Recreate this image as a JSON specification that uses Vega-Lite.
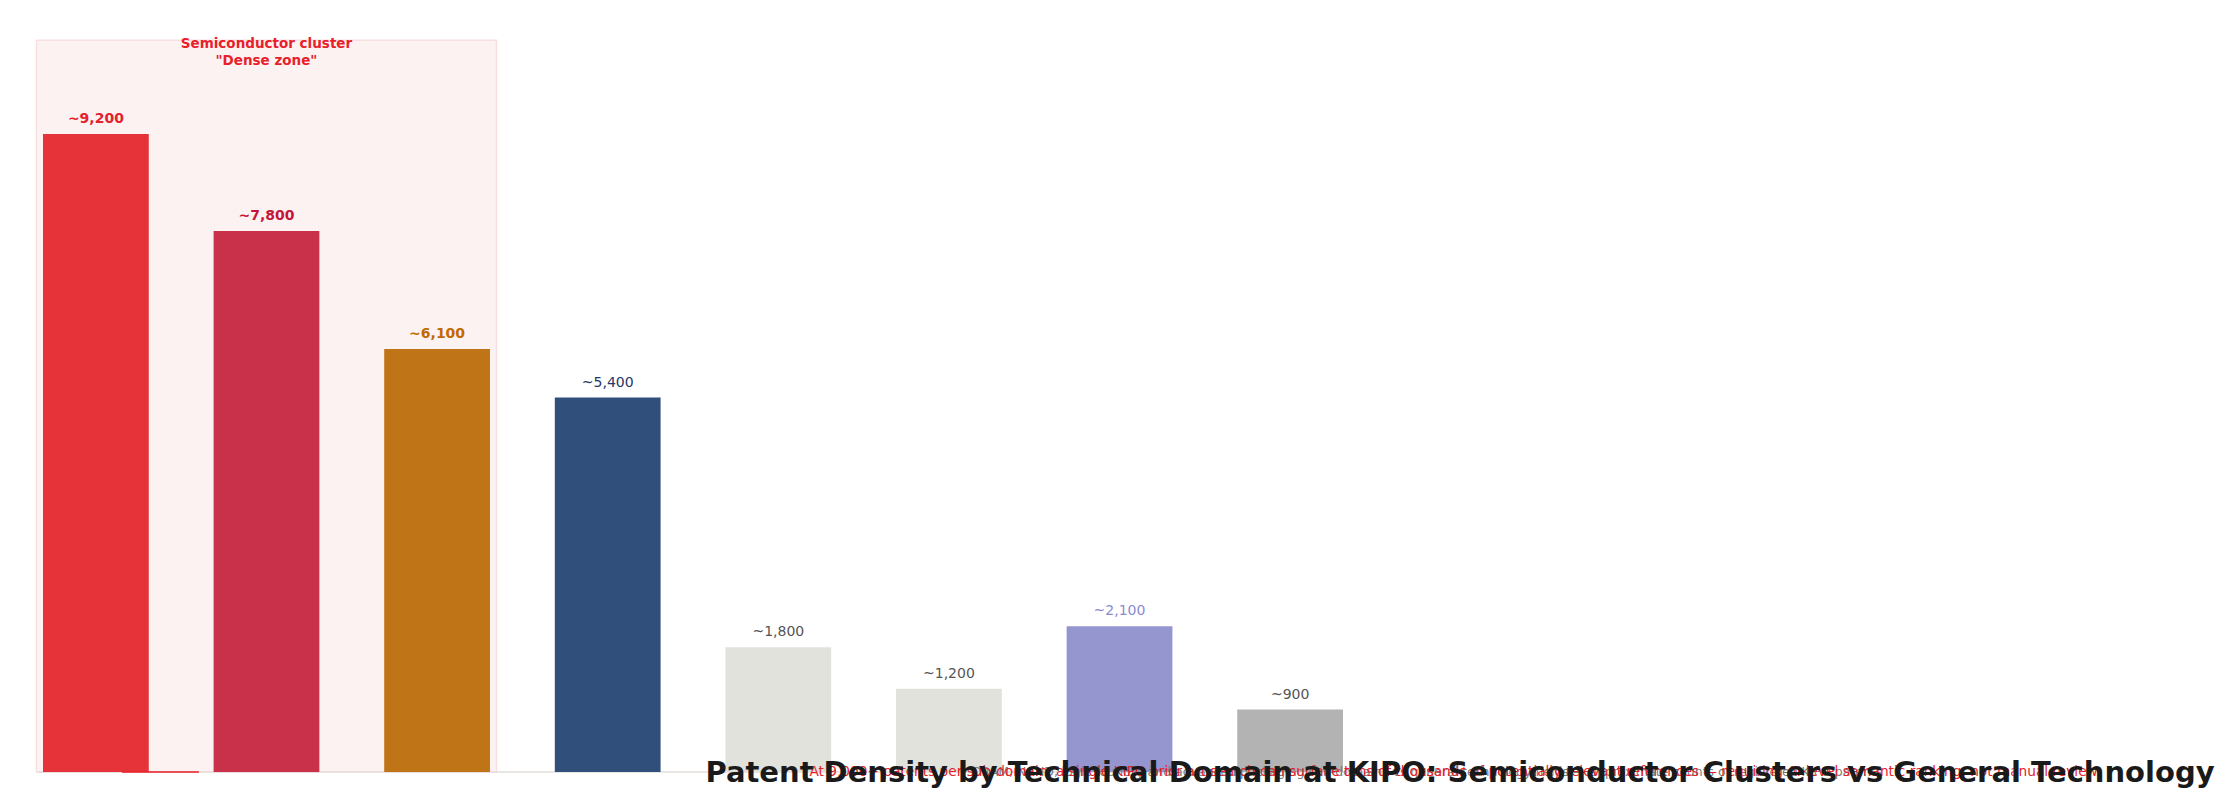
{
  "$schema": "https://vega.github.io/schema/vega-lite/v6.json",
  "autosize": {"type": "none"},
  "padding": {"left": 0, "top": 78.5, "right": 839, "bottom": 24.5},
  "width": 1386,
  "height": 693.5,
  "background": "white",
  "config": {
    "view": {"stroke": null},
    "font": "DejaVu Sans"
  },
  "title": {
    "text": "Patent Density by Technical Domain at KIPO: Semiconductor Clusters vs General Technology",
    "orient": "bottom",
    "anchor": "middle",
    "frame": "group",
    "dx": 767,
    "offset": 3,
    "baseline": "alphabetic",
    "font": "DejaVu Sans",
    "fontSize": 29,
    "fontWeight": "bold",
    "color": "#1a1a1a"
  },
  "data": {
    "values": [
      {"domain": "Memory (DRAM / NAND)", "group": "semi", "value": 9200, "label": "~9,200"},
      {"domain": "Logic & Foundry", "group": "semi", "value": 7800, "label": "~7,800"},
      {"domain": "Advanced Packaging", "group": "semi", "value": 6100, "label": "~6,100"},
      {"domain": "Display", "group": "general", "value": 5400, "label": "~5,400"},
      {"domain": "Mechanical Engineering", "group": "general", "value": 1800, "label": "~1,800"},
      {"domain": "Consumer Goods", "group": "general", "value": 1200, "label": "~1,200"},
      {"domain": "Biotech / Pharma", "group": "general", "value": 2100, "label": "~2,100"},
      {"domain": "Civil Engineering", "group": "general", "value": 900, "label": "~900"}
    ]
  },
  "encoding": {
    "x": {
      "field": "domain",
      "type": "nominal",
      "scale": {
        "domain": ["Memory (DRAM / NAND)", "Logic & Foundry", "Advanced Packaging", "Display", "Mechanical Engineering", "Consumer Goods", "Biotech / Pharma", "Civil Engineering"],
        "paddingInner": 0.38,
        "paddingOuter": 0.252
      },
      "axis": null
    }
  },
  "layer": [
    {
      "transform": [{"filter": "datum.domain === 'Logic & Foundry'"}],
      "mark": {"type": "rect", "width": 460, "fill": "#fdf2f2", "stroke": "#f9e0e0", "strokeWidth": 1.5},
      "encoding": {
        "y": {"datum": 10550, "type": "quantitative", "scale": {"domain": [0, 10000]}, "axis": null},
        "y2": {"datum": 0}
      }
    },
    {
      "transform": [{"filter": "datum.domain === 'Memory (DRAM / NAND)'"}],
      "mark": {"type": "rule", "color": "#e3deda", "strokeWidth": 1.5},
      "encoding": {
        "x": {"value": 37},
        "x2": {"value": 1386},
        "y": {"datum": 0, "type": "quantitative", "scale": {"domain": [0, 10000]}, "axis": null}
      }
    },
    {
      "mark": {"type": "bar"},
      "encoding": {
        "y": {"field": "value", "type": "quantitative", "scale": {"domain": [0, 10000]}, "axis": null},
        "color": {
          "field": "domain",
          "type": "nominal",
          "scale": {
            "domain": ["Memory (DRAM / NAND)", "Logic & Foundry", "Advanced Packaging", "Display", "Mechanical Engineering", "Consumer Goods", "Biotech / Pharma", "Civil Engineering"],
            "range": ["#e63339", "#c9314b", "#bf7418", "#304f7a", "#e2e2dc", "#e2e2dc", "#9595cf", "#b3b3b3"]
          },
          "legend": null
        }
      }
    },
    {
      "transform": [{"filter": "datum.group === 'semi'"}],
      "mark": {"type": "text", "baseline": "bottom", "dy": -8, "fontSize": 14, "fontWeight": "bold"},
      "encoding": {
        "y": {"field": "value", "type": "quantitative", "scale": {"domain": [0, 10000]}, "axis": null},
        "text": {"field": "label", "type": "nominal"},
        "fill": {
          "field": "domain",
          "type": "nominal",
          "scale": {
            "domain": ["Memory (DRAM / NAND)", "Logic & Foundry", "Advanced Packaging", "Display", "Mechanical Engineering", "Consumer Goods", "Biotech / Pharma", "Civil Engineering"],
            "range": ["#e3222e", "#c5163a", "#c06a00", "#1f3864", "#555555", "#555555", "#8b8bd0", "#555555"]
          },
          "legend": null
        }
      }
    },
    {
      "transform": [{"filter": "datum.group === 'general'"}],
      "mark": {"type": "text", "baseline": "bottom", "dy": -8, "fontSize": 14, "fontWeight": "normal"},
      "encoding": {
        "y": {"field": "value", "type": "quantitative", "scale": {"domain": [0, 10000]}, "axis": null},
        "text": {"field": "label", "type": "nominal"},
        "fill": {
          "field": "domain",
          "type": "nominal",
          "scale": {
            "domain": ["Memory (DRAM / NAND)", "Logic & Foundry", "Advanced Packaging", "Display", "Mechanical Engineering", "Consumer Goods", "Biotech / Pharma", "Civil Engineering"],
            "range": ["#e3222e", "#c5163a", "#c06a00", "#1f3864", "#555555", "#555555", "#8b8bd0", "#555555"]
          },
          "legend": null
        }
      }
    },
    {
      "transform": [{"filter": "datum.domain === 'Logic & Foundry'"}],
      "mark": {"type": "text", "baseline": "alphabetic", "align": "center", "fontSize": 13.5, "fontWeight": "bold", "color": "#e8202a"},
      "encoding": {
        "y": {"datum": 10446, "type": "quantitative", "scale": {"domain": [0, 10000]}, "axis": null},
        "text": {"value": "Semiconductor cluster"}
      }
    },
    {
      "transform": [{"filter": "datum.domain === 'Logic & Foundry'"}],
      "mark": {"type": "text", "baseline": "alphabetic", "align": "center", "fontSize": 13.5, "fontWeight": "bold", "color": "#e8202a"},
      "encoding": {
        "y": {"datum": 10200, "type": "quantitative", "scale": {"domain": [0, 10000]}, "axis": null},
        "text": {"value": "\"Dense zone\""}
      }
    },
    {
      "transform": [{"filter": "datum.domain === 'Memory (DRAM / NAND)'"}],
      "mark": {"type": "tick", "orient": "horizontal", "size": 77, "thickness": 1.5, "xOffset": 64.5, "color": "#e8202a", "opacity": 1},
      "encoding": {
        "y": {"datum": 0, "type": "quantitative", "scale": {"domain": [0, 10000]}, "axis": null}
      }
    },
    {
      "transform": [{"filter": "datum.domain === 'Civil Engineering'"}],
      "mark": {"type": "text", "baseline": "middle", "align": "center", "dx": 137, "fontSize": 12.5, "color": "#7a7a7a"},
      "encoding": {
        "y": {"datum": 0, "type": "quantitative", "scale": {"domain": [0, 10000]}, "axis": null},
        "text": {"value": "DRAM, NAND, logic foundry and advanced packaging sub-domains vs general technology fields — approximate counts of registered KIPO patents"}
      }
    },
    {
      "transform": [{"filter": "datum.domain === 'Civil Engineering'"}],
      "mark": {"type": "text", "baseline": "middle", "align": "center", "dx": 165, "fontSize": 13.7, "color": "#e8202a"},
      "encoding": {
        "y": {"datum": 0, "type": "quantitative", "scale": {"domain": [0, 10000]}, "axis": null},
        "text": {"value": "At 9,000+ patents per sub-domain, a single KIPO prior art search can surface tens of thousands of potentially relevant references — requiring AI-level semantic ranking, not manual review."}
      }
    }
  ]
}
